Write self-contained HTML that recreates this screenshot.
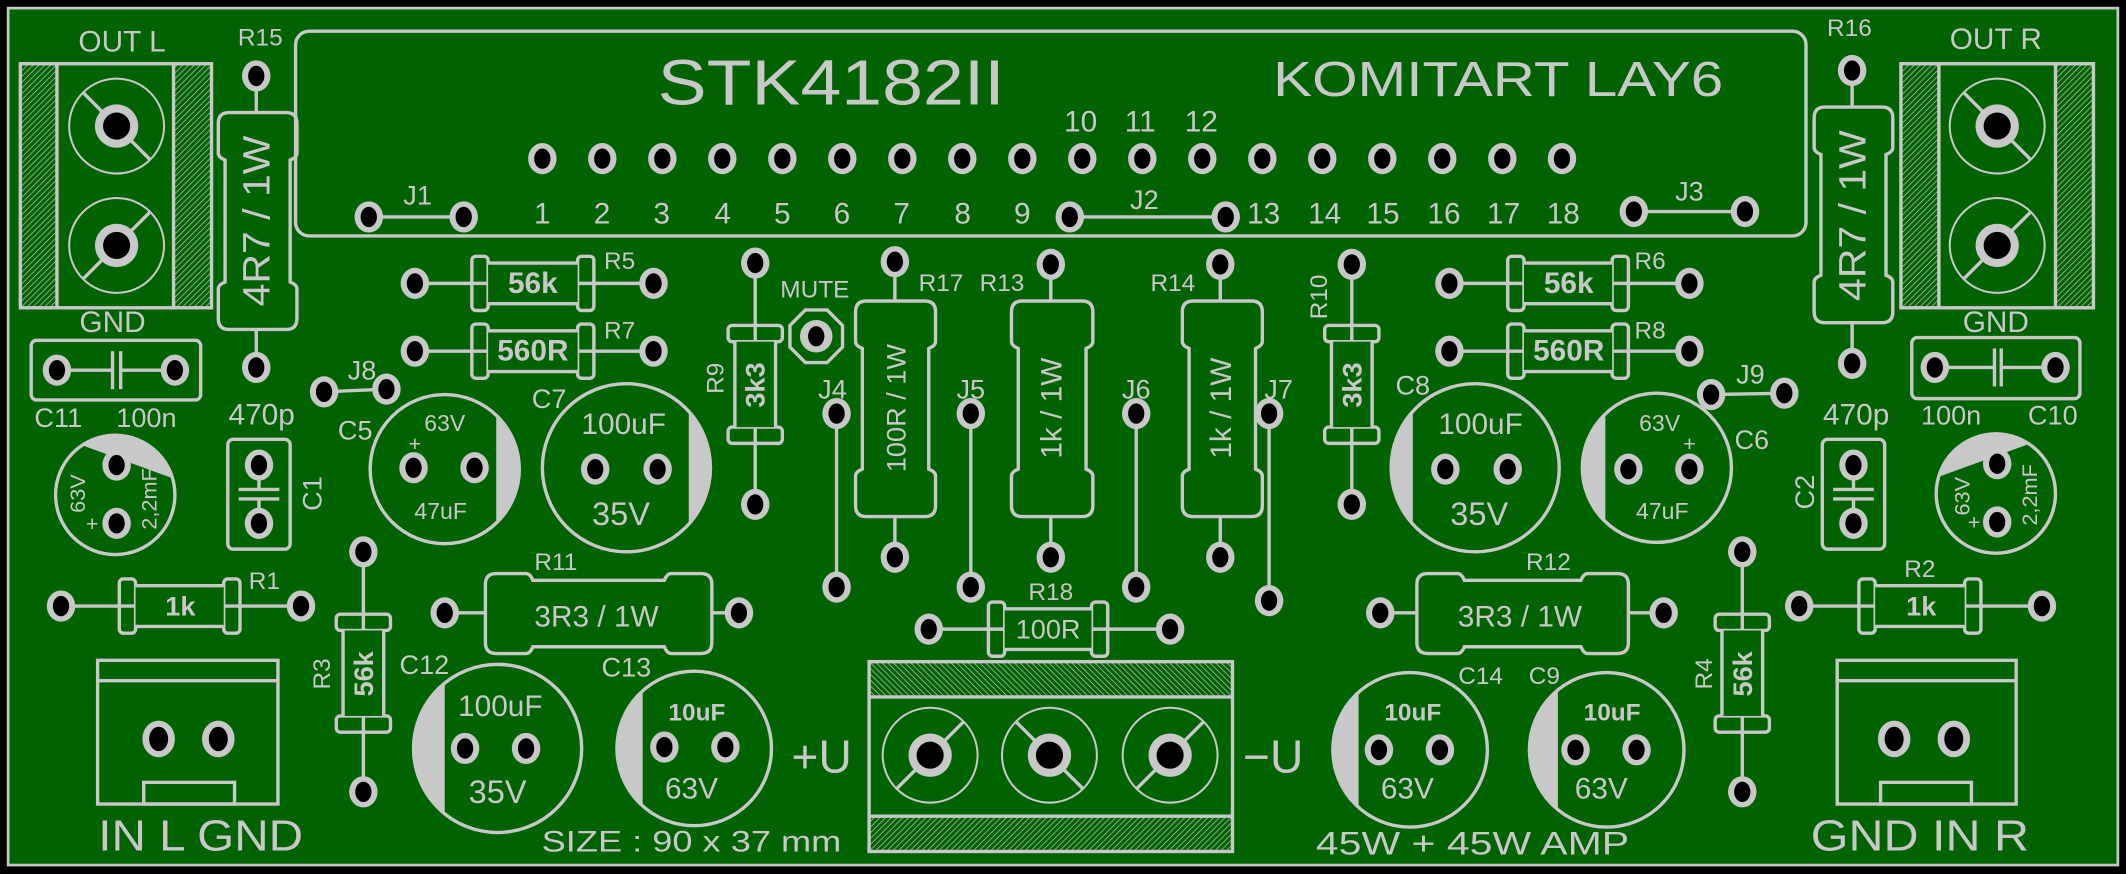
<!DOCTYPE html>
<html><head><meta charset="utf-8"><style>
html,body{margin:0;padding:0;background:#000;}
svg{display:block;}
.s{fill:none;stroke:#c8c8c8;stroke-width:2.5;}
.th{fill:none;stroke:#c8c8c8;stroke-width:1.5;}
.ln{stroke:#c8c8c8;stroke-width:2.5;}
.f{fill:#c8c8c8;}
text{fill:#c8c8c8;font-family:"Liberation Sans Narrow","Liberation Sans",sans-serif;text-anchor:middle;dominant-baseline:central;}
.b{font-weight:bold;}
</style></head><body>
<svg width="2126" height="874" viewBox="0 0 1568 644.6" preserveAspectRatio="none" xmlns="http://www.w3.org/2000/svg">
<defs>
<pattern id="h" width="3" height="3" patternUnits="userSpaceOnUse" patternTransform="rotate(45)"><rect width="3" height="3" fill="#006200"/><line x1="0" y1="0" x2="0" y2="3" stroke="#c8c8c8" stroke-width="1"/></pattern>
<pattern id="h2" width="3" height="3" patternUnits="userSpaceOnUse" patternTransform="rotate(-45)"><rect width="3" height="3" fill="#006200"/><line x1="0" y1="0" x2="0" y2="3" stroke="#c8c8c8" stroke-width="1"/></pattern>
<g id="pd"><ellipse rx="10.5" ry="11.5" fill="#c8c8c8"/><ellipse rx="6" ry="7.5" fill="#000"/></g>
<g id="pb"><ellipse rx="12" ry="13.5" fill="#c8c8c8"/><ellipse rx="7" ry="9" fill="#000"/></g>
<g id="pt"><circle r="16" fill="#c8c8c8"/><circle r="10" fill="#000"/></g>
</defs>
<rect x="0" y="0" width="1568" height="644.6" fill="#000"/>
<rect x="6" y="6" width="1556" height="632" fill="#006200" stroke="#c8c8c8" stroke-width="2"/>

<!-- IC outline -->
<rect x="218" y="23" width="1114" height="151" rx="10" class="s" stroke-width="3"/>
<text x="613" y="61" font-size="47" textLength="256" lengthAdjust="spacingAndGlyphs" style="font-family:'Liberation Sans',sans-serif">STK4182II</text>
<text x="1105" y="59" font-size="36" textLength="332" lengthAdjust="spacingAndGlyphs" style="font-family:'Liberation Sans',sans-serif">KOMITART LAY6</text>
<g>
<use href="#pd" x="400" y="117"/><use href="#pd" x="444.2" y="117"/><use href="#pd" x="488.5" y="117"/><use href="#pd" x="532.7" y="117"/><use href="#pd" x="577" y="117"/><use href="#pd" x="621.2" y="117"/><use href="#pd" x="665.5" y="117"/><use href="#pd" x="709.7" y="117"/><use href="#pd" x="754" y="117"/><use href="#pd" x="798.2" y="117"/><use href="#pd" x="842.5" y="117"/><use href="#pd" x="886.7" y="117"/><use href="#pd" x="931" y="117"/><use href="#pd" x="975.2" y="117"/><use href="#pd" x="1019.5" y="117"/><use href="#pd" x="1063.7" y="117"/><use href="#pd" x="1108" y="117"/><use href="#pd" x="1152" y="117"/>
</g>
<g font-size="22">
<text x="400" y="158">1</text><text x="444" y="158">2</text><text x="488" y="158">3</text><text x="533" y="158">4</text><text x="577" y="158">5</text><text x="621" y="158">6</text><text x="665" y="158">7</text><text x="710" y="158">8</text><text x="754" y="158">9</text>
<text x="797" y="90">10</text><text x="841" y="90">11</text><text x="886" y="90">12</text>
<text x="932" y="158">13</text><text x="977" y="158">14</text><text x="1020" y="158">15</text><text x="1065" y="158">16</text><text x="1109" y="158">17</text><text x="1153" y="158">18</text>
</g>
<!-- jumpers J1 J2 J3 -->
<line x1="272" y1="160" x2="342" y2="160" class="ln" stroke-width="4"/><use href="#pd" x="272" y="160"/><use href="#pd" x="342" y="160"/>
<text x="308" y="144" font-size="20">J1</text>
<line x1="789" y1="160" x2="904" y2="160" class="ln" stroke-width="4"/><use href="#pd" x="789" y="160"/><use href="#pd" x="904" y="160"/>
<text x="844" y="147" font-size="20">J2</text>
<line x1="1205" y1="156" x2="1287" y2="156" class="ln" stroke-width="4"/><use href="#pd" x="1205" y="156"/><use href="#pd" x="1287" y="156"/>
<text x="1246" y="141" font-size="20">J3</text>

<!-- OUT L -->
<text x="90" y="31" font-size="22">OUT L</text>
<rect x="15" y="47" width="27" height="180" fill="url(#h)"/>
<rect x="128" y="47" width="28" height="180" fill="url(#h)"/>
<rect x="15" y="47" width="141" height="180" class="s"/>
<line x1="42" y1="47" x2="42" y2="227" class="ln" stroke-width="1.5"/><line x1="128" y1="47" x2="128" y2="227" class="ln" stroke-width="1.5"/>
<circle cx="86" cy="93" r="35" class="th"/><line x1="61" y1="68" x2="111" y2="118" class="ln" stroke-width="1.5"/><use href="#pt" x="86" y="93"/>
<circle cx="86" cy="181" r="35" class="th"/><line x1="111" y1="156" x2="61" y2="206" class="ln" stroke-width="1.5"/><use href="#pt" x="86" y="181"/>
<!-- OUT R -->
<text x="1472" y="29" font-size="22">OUT R</text>
<rect x="1402" y="47" width="28" height="180" fill="url(#h)"/>
<rect x="1516" y="47" width="28" height="180" fill="url(#h)"/>
<rect x="1402" y="47" width="142" height="180" class="s"/>
<line x1="1430" y1="47" x2="1430" y2="227" class="ln" stroke-width="1.5"/><line x1="1516" y1="47" x2="1516" y2="227" class="ln" stroke-width="1.5"/>
<circle cx="1473" cy="93" r="35" class="th"/><line x1="1448" y1="68" x2="1498" y2="118" class="ln" stroke-width="1.5"/><use href="#pt" x="1473" y="93"/>
<circle cx="1473" cy="181" r="35" class="th"/><line x1="1498" y1="156" x2="1448" y2="206" class="ln" stroke-width="1.5"/><use href="#pt" x="1473" y="181"/>

<!-- R15 / R16 -->
<text x="192" y="28" font-size="18">R15</text>
<line x1="189" y1="56" x2="189" y2="83" class="ln"/><line x1="189" y1="243" x2="189" y2="271" class="ln"/>
<path class="s" d="M169 83 H211 Q219 83 219 91 V113 Q219 116 214 118 V208 Q219 210 219 213 V235 Q219 243 211 243 H169 Q161 243 161 235 V213 Q161 210 166 208 V118 Q161 116 161 113 V91 Q161 83 169 83 Z"/>
<use href="#pd" x="189" y="56"/><use href="#pd" x="189" y="271"/>
<text transform="translate(190,163) rotate(-90)" font-size="28" textLength="126" lengthAdjust="spacingAndGlyphs">4R7 / 1W</text>
<text x="1364" y="21" font-size="18">R16</text>
<line x1="1366" y1="52" x2="1366" y2="79" class="ln"/><line x1="1366" y1="238" x2="1366" y2="268" class="ln"/>
<path class="s" d="M1346 79 H1388 Q1396 79 1396 87 V109 Q1396 112 1391 114 V203 Q1396 205 1396 208 V230 Q1396 238 1388 238 H1346 Q1338 238 1338 230 V208 Q1338 205 1343 203 V114 Q1338 112 1338 109 V87 Q1338 79 1346 79 Z"/>
<use href="#pd" x="1366" y="52"/><use href="#pd" x="1366" y="268"/>
<text transform="translate(1367,159) rotate(-90)" font-size="28" textLength="126" lengthAdjust="spacingAndGlyphs">4R7 / 1W</text>

<!-- small horizontal resistors -->
<g>
<line x1="306" y1="209" x2="482" y2="209" class="ln"/>
<rect x="348" y="189" width="12" height="40" rx="3" class="s" fill="#006200"/><rect x="426" y="189" width="12" height="40" rx="3" class="s" fill="#006200"/>
<rect x="360" y="194" width="66" height="30" fill="#006200"/><line x1="360" y1="194" x2="426" y2="194" class="ln"/><line x1="360" y1="224" x2="426" y2="224" class="ln"/>
<use href="#pd" x="306" y="209"/><use href="#pd" x="482" y="209"/>
<text x="393" y="209" font-size="22" class="b">56k</text><text x="457" y="193" font-size="18">R5</text>
</g>
<g>
<line x1="306" y1="259" x2="482" y2="259" class="ln"/>
<rect x="348" y="239" width="12" height="40" rx="3" class="s" fill="#006200"/><rect x="426" y="239" width="12" height="40" rx="3" class="s" fill="#006200"/>
<rect x="360" y="244" width="66" height="30" fill="#006200"/><line x1="360" y1="244" x2="426" y2="244" class="ln"/><line x1="360" y1="274" x2="426" y2="274" class="ln"/>
<use href="#pd" x="306" y="259"/><use href="#pd" x="482" y="259"/>
<text x="393" y="259" font-size="22" class="b">560R</text><text x="457" y="244" font-size="18">R7</text>
</g>
<g>
<line x1="1069" y1="209" x2="1246" y2="209" class="ln"/>
<rect x="1112" y="189" width="12" height="40" rx="3" class="s" fill="#006200"/><rect x="1189" y="189" width="12" height="40" rx="3" class="s" fill="#006200"/>
<rect x="1124" y="194" width="65" height="30" fill="#006200"/><line x1="1124" y1="194" x2="1189" y2="194" class="ln"/><line x1="1124" y1="224" x2="1189" y2="224" class="ln"/>
<use href="#pd" x="1069" y="209"/><use href="#pd" x="1246" y="209"/>
<text x="1157" y="209" font-size="22" class="b">56k</text><text x="1217" y="193" font-size="18">R6</text>
</g>
<g>
<line x1="1069" y1="259" x2="1246" y2="259" class="ln"/>
<rect x="1112" y="239" width="12" height="40" rx="3" class="s" fill="#006200"/><rect x="1189" y="239" width="12" height="40" rx="3" class="s" fill="#006200"/>
<rect x="1124" y="244" width="65" height="30" fill="#006200"/><line x1="1124" y1="244" x2="1189" y2="244" class="ln"/><line x1="1124" y1="274" x2="1189" y2="274" class="ln"/>
<use href="#pd" x="1069" y="259"/><use href="#pd" x="1246" y="259"/>
<text x="1157" y="259" font-size="22" class="b">560R</text><text x="1217" y="244" font-size="18">R8</text>
</g>
<g>
<line x1="45" y1="447" x2="222" y2="447" class="ln"/>
<rect x="88" y="427" width="12" height="40" rx="3" class="s" fill="#006200"/><rect x="165" y="427" width="12" height="40" rx="3" class="s" fill="#006200"/>
<rect x="100" y="432" width="65" height="30" fill="#006200"/><line x1="100" y1="432" x2="165" y2="432" class="ln"/><line x1="100" y1="462" x2="165" y2="462" class="ln"/>
<use href="#pd" x="45" y="447"/><use href="#pd" x="222" y="447"/>
<text x="133" y="447" font-size="20" class="b">1k</text><text x="195" y="429" font-size="18">R1</text>
</g>
<g>
<line x1="1327" y1="447" x2="1506" y2="447" class="ln"/>
<rect x="1371" y="427" width="12" height="40" rx="3" class="s" fill="#006200"/><rect x="1449" y="427" width="12" height="40" rx="3" class="s" fill="#006200"/>
<rect x="1383" y="432" width="66" height="30" fill="#006200"/><line x1="1383" y1="432" x2="1449" y2="432" class="ln"/><line x1="1383" y1="462" x2="1449" y2="462" class="ln"/>
<use href="#pd" x="1327" y="447"/><use href="#pd" x="1506" y="447"/>
<text x="1417" y="447" font-size="20" class="b">1k</text><text x="1416" y="420" font-size="18">R2</text>
</g>
<g>
<line x1="685" y1="464" x2="863" y2="464" class="ln"/>
<rect x="729" y="444" width="12" height="40" rx="3" class="s" fill="#006200"/><rect x="805" y="444" width="12" height="40" rx="3" class="s" fill="#006200"/>
<rect x="741" y="449" width="64" height="30" fill="#006200"/><line x1="741" y1="449" x2="805" y2="449" class="ln"/><line x1="741" y1="479" x2="805" y2="479" class="ln"/>
<use href="#pd" x="685" y="464"/><use href="#pd" x="863" y="464"/>
<text x="773" y="464" font-size="20">100R</text><text x="775" y="437" font-size="18">R18</text>
</g>

<!-- small vertical resistors -->
<g>
<line x1="268" y1="407" x2="268" y2="584" class="ln"/>
<rect x="248" y="453" width="40" height="12" rx="3" class="s" fill="#006200"/><rect x="248" y="528" width="40" height="12" rx="3" class="s" fill="#006200"/>
<rect x="253" y="465" width="30" height="63" fill="#006200"/><line x1="253" y1="465" x2="253" y2="528" class="ln"/><line x1="283" y1="465" x2="283" y2="528" class="ln"/>
<use href="#pd" x="268" y="407"/><use href="#pd" x="268" y="584"/>
<text transform="translate(268,497) rotate(-90)" font-size="20" class="b">56k</text>
<text transform="translate(238,497) rotate(-90)" font-size="18">R3</text>
</g>
<g>
<line x1="1285" y1="407" x2="1285" y2="584" class="ln"/>
<rect x="1265" y="453" width="40" height="12" rx="3" class="s" fill="#006200"/><rect x="1265" y="528" width="40" height="12" rx="3" class="s" fill="#006200"/>
<rect x="1270" y="465" width="30" height="63" fill="#006200"/><line x1="1270" y1="465" x2="1270" y2="528" class="ln"/><line x1="1300" y1="465" x2="1300" y2="528" class="ln"/>
<use href="#pd" x="1285" y="407"/><use href="#pd" x="1285" y="584"/>
<text transform="translate(1285,497) rotate(-90)" font-size="20" class="b">56k</text>
<text transform="translate(1257,497) rotate(-90)" font-size="18">R4</text>
</g>
<g>
<line x1="557" y1="194" x2="557" y2="372" class="ln"/>
<rect x="537" y="240" width="40" height="12" rx="3" class="s" fill="#006200"/><rect x="537" y="315" width="40" height="12" rx="3" class="s" fill="#006200"/>
<rect x="542" y="252" width="30" height="63" fill="#006200"/><line x1="542" y1="252" x2="542" y2="315" class="ln"/><line x1="572" y1="252" x2="572" y2="315" class="ln"/>
<use href="#pd" x="557" y="194"/><use href="#pd" x="557" y="372"/>
<text transform="translate(557,284) rotate(-90)" font-size="20" class="b">3k3</text>
<text transform="translate(528,279) rotate(-90)" font-size="18">R9</text>
</g>
<g>
<line x1="997" y1="195" x2="997" y2="372" class="ln"/>
<rect x="977" y="240" width="40" height="12" rx="3" class="s" fill="#006200"/><rect x="977" y="315" width="40" height="12" rx="3" class="s" fill="#006200"/>
<rect x="982" y="252" width="30" height="63" fill="#006200"/><line x1="982" y1="252" x2="982" y2="315" class="ln"/><line x1="1012" y1="252" x2="1012" y2="315" class="ln"/>
<use href="#pd" x="997" y="195"/><use href="#pd" x="997" y="372"/>
<text transform="translate(997,284) rotate(-90)" font-size="20" class="b">3k3</text>
<text transform="translate(973,219) rotate(-90)" font-size="18">R10</text>
</g>

<!-- MUTE -->
<text x="601" y="214" font-size="18">MUTE</text>
<polygon points="621.4,240 621.4,256 610,267.4 594,267.4 582.6,256 582.6,240 594,228.6 610,228.6" class="s"/>
<circle cx="602" cy="248" r="12" fill="#c8c8c8"/><ellipse cx="602" cy="248" rx="6" ry="7.5" fill="#000"/>

<!-- 1W vertical resistors -->
<line x1="660" y1="193" x2="660" y2="411" class="ln"/>
<path class="s" fill="#006200" style="fill:#006200" d="M639 222 H682 Q690 222 690 230 V252 Q690 255 685 257 V346 Q690 348 690 351 V373 Q690 381 682 381 H639 Q631 381 631 373 V351 Q631 348 636 346 V257 Q631 255 631 252 V230 Q631 222 639 222 Z"/>
<use href="#pd" x="660" y="193"/><use href="#pd" x="660" y="411"/>
<text transform="translate(661,301) rotate(-90)" font-size="20">100R / 1W</text>
<text x="694" y="209" font-size="18">R17</text>
<line x1="775" y1="195" x2="775" y2="411" class="ln"/>
<path class="s" style="fill:#006200" d="M754 222 H798 Q806 222 806 230 V252 Q806 255 801 257 V346 Q806 348 806 351 V373 Q806 381 798 381 H754 Q746 381 746 373 V351 Q746 348 751 346 V257 Q746 255 746 252 V230 Q746 222 754 222 Z"/>
<use href="#pd" x="775" y="195"/><use href="#pd" x="775" y="411"/>
<text transform="translate(776,301) rotate(-90)" font-size="22">1k / 1W</text>
<text x="739" y="209" font-size="18">R13</text>
<line x1="900" y1="195" x2="900" y2="411" class="ln"/>
<path class="s" style="fill:#006200" d="M880 222 H923 Q931 222 931 230 V252 Q931 255 926 257 V346 Q931 348 931 351 V373 Q931 381 923 381 H880 Q872 381 872 373 V351 Q872 348 877 346 V257 Q872 255 872 252 V230 Q872 222 880 222 Z"/>
<use href="#pd" x="900" y="195"/><use href="#pd" x="900" y="411"/>
<text transform="translate(901,301) rotate(-90)" font-size="22">1k / 1W</text>
<text x="865" y="209" font-size="18">R14</text>

<!-- J4..J7 -->
<line x1="617" y1="305" x2="617" y2="433" class="ln"/><use href="#pd" x="617" y="305"/><use href="#pd" x="617" y="433"/><text x="614" y="287" font-size="20">J4</text>
<line x1="716" y1="305" x2="716" y2="433" class="ln"/><use href="#pd" x="716" y="305"/><use href="#pd" x="716" y="433"/><text x="716" y="287" font-size="20">J5</text>
<line x1="838" y1="305" x2="838" y2="433" class="ln"/><use href="#pd" x="838" y="305"/><use href="#pd" x="838" y="433"/><text x="838" y="287" font-size="20">J6</text>
<line x1="936" y1="305" x2="936" y2="443" class="ln"/><use href="#pd" x="936" y="305"/><use href="#pd" x="936" y="443"/><text x="943" y="287" font-size="20">J7</text>

<!-- GND caps C11 / C10 -->
<text x="83" y="238" font-size="22">GND</text>
<rect x="23" y="251" width="125" height="44" rx="4" class="s"/>
<line x1="42" y1="273" x2="83" y2="273" class="ln" stroke-width="1.5"/><line x1="89" y1="273" x2="129" y2="273" class="ln" stroke-width="1.5"/>
<line x1="83" y1="259" x2="83" y2="287" class="ln" stroke-width="1.5"/><line x1="89" y1="259" x2="89" y2="287" class="ln" stroke-width="1.5"/>
<use href="#pd" x="42" y="273"/><use href="#pd" x="129" y="273"/>
<text x="43" y="308" font-size="20">C11</text><text x="108" y="308" font-size="20">100n</text><text x="193" y="306" font-size="22">470p</text>
<text x="1472" y="238" font-size="22">GND</text>
<rect x="1410" y="249" width="124" height="45" rx="4" class="s"/>
<line x1="1427" y1="271" x2="1471" y2="271" class="ln" stroke-width="1.5"/><line x1="1476" y1="271" x2="1516" y2="271" class="ln" stroke-width="1.5"/>
<line x1="1471" y1="257" x2="1471" y2="285" class="ln" stroke-width="1.5"/><line x1="1476" y1="257" x2="1476" y2="285" class="ln" stroke-width="1.5"/>
<use href="#pd" x="1427" y="271"/><use href="#pd" x="1516" y="271"/>
<text x="1369" y="306" font-size="22">470p</text><text x="1439" y="306" font-size="20">100n</text><text x="1514" y="306" font-size="20">C10</text>

<!-- J8 J9 -->
<line x1="239" y1="289" x2="285" y2="287" class="ln" stroke-width="4"/><use href="#pd" x="239" y="289"/><use href="#pd" x="285" y="287"/><text x="267" y="273" font-size="20">J8</text>
<line x1="1262" y1="291" x2="1316" y2="290" class="ln" stroke-width="4"/><use href="#pd" x="1262" y="291"/><use href="#pd" x="1316" y="290"/><text x="1291" y="276" font-size="20">J9</text>

<!-- C1 C2 -->
<rect x="168" y="324" width="46" height="81" rx="4" class="s"/>
<line x1="191" y1="343" x2="191" y2="386" class="ln" stroke-width="1.5"/>
<rect x="176" y="362" width="30" height="5" fill="#006200"/>
<line x1="176" y1="361" x2="206" y2="361" class="ln" stroke-width="1.5"/><line x1="176" y1="368" x2="206" y2="368" class="ln" stroke-width="1.5"/>
<use href="#pd" x="191" y="343"/><use href="#pd" x="191" y="386"/>
<text transform="translate(230,364) rotate(-90)" font-size="20">C1</text>
<rect x="1344" y="324" width="46" height="81" rx="4" class="s"/>
<line x1="1367" y1="343" x2="1367" y2="386" class="ln" stroke-width="1.5"/>
<rect x="1352" y="362" width="30" height="5" fill="#006200"/>
<line x1="1352" y1="361" x2="1382" y2="361" class="ln" stroke-width="1.5"/><line x1="1352" y1="368" x2="1382" y2="368" class="ln" stroke-width="1.5"/>
<use href="#pd" x="1367" y="343"/><use href="#pd" x="1367" y="386"/>
<text transform="translate(1331,363) rotate(-90)" font-size="20">C2</text>

<!-- 2.2mF caps -->
<circle cx="85" cy="365" r="44" class="s"/>
<path class="f" transform="rotate(-70 85 365)" d="M111 329.5 A44 44 0 0 1 111 400.5 Z"/>
<use href="#pd" x="86" y="343"/><use href="#pd" x="86" y="386"/>
<text transform="translate(57,364) rotate(-90)" font-size="16">63V</text><text x="68" y="386" font-size="16">+</text>
<text transform="translate(110,368) rotate(-90)" font-size="16">2,2mF</text>
<circle cx="1472" cy="364" r="44" class="s"/>
<path class="f" transform="rotate(-110 1472 364)" d="M1498 328.5 A44 44 0 0 1 1498 399.5 Z"/>
<use href="#pd" x="1473" y="342"/><use href="#pd" x="1473" y="385"/>
<text transform="translate(1447,366) rotate(-90)" font-size="16">63V</text><text x="1456" y="385" font-size="16">+</text>
<text transform="translate(1497,365) rotate(-90)" font-size="16">2,2mF</text>

<!-- C5 C7 C8 C6 -->
<circle cx="328" cy="346" r="55" class="s"/>
<path class="f" d="M366 306.2 A55 55 0 0 1 366 385.8 Z"/>
<use href="#pd" x="305" y="345"/><use href="#pd" x="350" y="345"/>
<text x="328" y="312" font-size="17">63V</text><text x="306" y="327" font-size="16">+</text><text x="325" y="377" font-size="17">47uF</text>
<text x="262" y="317" font-size="20">C5</text>
<circle cx="462" cy="345" r="62" class="s"/>
<path class="f" d="M508 303.4 A62 62 0 0 1 508 386.6 Z"/>
<use href="#pd" x="439" y="346"/><use href="#pd" x="485" y="346"/>
<text x="460" y="313" font-size="22">100uF</text><text x="458" y="379" font-size="24">35V</text>
<text x="405" y="294" font-size="20">C7</text>
<circle cx="1088" cy="345" r="62" class="s"/>
<path class="f" d="M1042 303.4 A62 62 0 0 0 1042 386.6 Z"/>
<use href="#pd" x="1066" y="346"/><use href="#pd" x="1112" y="346"/>
<text x="1092" y="313" font-size="22">100uF</text><text x="1091" y="379" font-size="24">35V</text>
<text x="1042" y="284" font-size="20">C8</text>
<circle cx="1222" cy="345" r="55" class="s"/>
<path class="f" d="M1184 305.2 A55 55 0 0 0 1184 384.8 Z"/>
<use href="#pd" x="1201" y="346"/><use href="#pd" x="1246" y="346"/>
<text x="1224" y="312" font-size="17">63V</text><text x="1246" y="327" font-size="16">+</text><text x="1226" y="377" font-size="17">47uF</text>
<text x="1292" y="324" font-size="20">C6</text>

<!-- R11 R12 -->
<line x1="328" y1="452" x2="545" y2="452" class="ln"/>
<path class="s" style="fill:#006200" d="M366 423 H388 Q391 423 393 428 H490 Q492 423 495 423 H517 Q525 423 525 431 V474 Q525 482 517 482 H495 Q492 482 490 477 H393 Q391 482 388 482 H366 Q358 482 358 474 V431 Q358 423 366 423 Z"/>
<use href="#pd" x="328" y="452"/><use href="#pd" x="545" y="452"/>
<text x="440" y="455" font-size="22">3R3 / 1W</text><text x="410" y="415" font-size="18">R11</text>
<line x1="1018" y1="452" x2="1227" y2="452" class="ln"/>
<path class="s" style="fill:#006200" d="M1053 423 H1075 Q1078 423 1080 428 H1166 Q1168 423 1171 423 H1193 Q1201 423 1201 431 V474 Q1201 482 1193 482 H1171 Q1168 482 1166 477 H1080 Q1078 482 1075 482 H1053 Q1045 482 1045 474 V431 Q1045 423 1053 423 Z"/>
<use href="#pd" x="1018" y="452"/><use href="#pd" x="1227" y="452"/>
<text x="1121" y="455" font-size="22">3R3 / 1W</text><text x="1142" y="415" font-size="18">R12</text>

<!-- C12 C13 C14 C9 -->
<circle cx="367" cy="552" r="62" class="s"/>
<path class="f" d="M328 503.8 A62 62 0 0 0 328 600.2 Z"/>
<use href="#pd" x="343" y="552"/><use href="#pd" x="388" y="552"/>
<text x="369" y="521" font-size="22">100uF</text><text x="367" y="584" font-size="24">35V</text>
<text x="313" y="490" font-size="20">C12</text>
<circle cx="512" cy="552" r="57" class="s"/>
<path class="f" d="M474 509.5 A57 57 0 0 0 474 594.5 Z"/>
<use href="#pd" x="490" y="551"/><use href="#pd" x="535" y="551"/>
<text x="514" y="526" font-size="18" class="b">10uF</text><text x="510" y="582" font-size="22">63V</text>
<text x="462" y="492" font-size="20">C13</text>
<circle cx="1040" cy="553" r="57" class="s"/>
<path class="f" d="M1002 510.5 A57 57 0 0 0 1002 595.5 Z"/>
<use href="#pd" x="1017" y="553"/><use href="#pd" x="1062" y="553"/>
<text x="1042" y="526" font-size="18" class="b">10uF</text><text x="1038" y="582" font-size="22">63V</text>
<text x="1092" y="499" font-size="18">C14</text>
<circle cx="1185" cy="553" r="57" class="s"/>
<path class="f" d="M1149 509.5 A57 57 0 0 0 1149 596.5 Z"/>
<use href="#pd" x="1162" y="553"/><use href="#pd" x="1207" y="553"/>
<text x="1189" y="526" font-size="18" class="b">10uF</text><text x="1181" y="582" font-size="22">63V</text>
<text x="1139" y="499" font-size="18">C9</text>

<!-- IN connectors -->
<rect x="72" y="487" width="133" height="106" class="s"/>
<line x1="72" y1="502" x2="205" y2="502" class="ln"/>
<rect x="106" y="577" width="67" height="16" class="s"/>
<use href="#pb" x="117" y="545"/><use href="#pb" x="161" y="545"/>
<text x="148" y="617" font-size="32" textLength="151" lengthAdjust="spacingAndGlyphs">IN L GND</text>
<rect x="1355" y="487" width="132" height="106" class="s"/>
<line x1="1355" y1="502" x2="1487" y2="502" class="ln"/>
<rect x="1387" y="577" width="67" height="16" class="s"/>
<use href="#pb" x="1397" y="545"/><use href="#pb" x="1441" y="545"/>
<text x="1416" y="617" font-size="32" textLength="161" lengthAdjust="spacingAndGlyphs">GND  IN R</text>

<!-- Power terminal -->
<rect x="641" y="488" width="268" height="26" fill="url(#h2)"/>
<rect x="641" y="602" width="268" height="26" fill="url(#h)"/>
<rect x="641" y="488" width="268" height="140" class="s"/>
<line x1="641" y1="514" x2="909" y2="514" class="ln" stroke-width="1.5"/><line x1="641" y1="602" x2="909" y2="602" class="ln" stroke-width="1.5"/>
<circle cx="686" cy="557" r="35" class="th"/><line x1="661" y1="582" x2="711" y2="532" class="ln" stroke-width="1.5"/><use href="#pt" x="686" y="557"/>
<circle cx="774" cy="557" r="35" class="th"/><line x1="749" y1="532" x2="799" y2="582" class="ln" stroke-width="1.5"/><use href="#pt" x="774" y="557"/>
<circle cx="863" cy="557" r="35" class="th"/><line x1="838" y1="582" x2="888" y2="532" class="ln" stroke-width="1.5"/><use href="#pt" x="863" y="557"/>
<text x="606" y="558" font-size="34">+U</text>
<text x="939" y="558" font-size="34">−U</text>

<text x="510" y="621" font-size="22" textLength="221" lengthAdjust="spacingAndGlyphs">SIZE : 90 x 37 mm</text>
<text x="1086" y="622" font-size="24" textLength="231" lengthAdjust="spacingAndGlyphs">45W + 45W AMP</text>
</svg>
</body></html>
